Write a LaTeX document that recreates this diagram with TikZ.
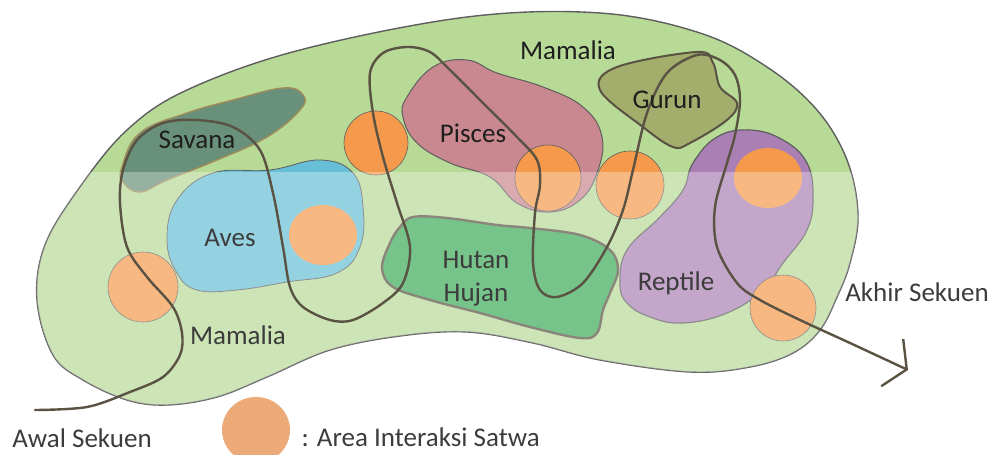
\documentclass[tikz,border=0pt]{standalone}
\usepackage{fontspec}
\setmainfont{Carlito}
\usepackage{tikz}
\usetikzlibrary{arrows.meta}

\definecolor{mamaliagreen}{HTML}{B8DA97}
\definecolor{savanagreen}{HTML}{68907A}
\definecolor{savanaedge}{HTML}{A08C5A}
\definecolor{avesblue}{HTML}{66BFD6}
\definecolor{piscespink}{HTML}{C9878F}
\definecolor{gurunolive}{HTML}{A3AD6C}
\definecolor{hutangreen}{HTML}{3DAB59}
\definecolor{reptilepurple}{HTML}{AA80B4}
\definecolor{interaksiorange}{HTML}{F59A4C}
\definecolor{legendaorange}{HTML}{ECAA78}
\definecolor{edgegray}{HTML}{5E5E5E}
\definecolor{sekuenline}{HTML}{5A5242}
\definecolor{labeldark}{HTML}{1E1E1E}
\definecolor{labelgray}{HTML}{3C3C3C}

\begin{document}
\begin{tikzpicture}[x=1pt, y=-1pt, font=\fontsize{27}{33}\selectfont]
  \useasboundingbox (0,0) rectangle (999,455);
  %% Mamalia area
  \filldraw[fill=mamaliagreen, draw=edgegray, line width=1.4pt]
    plot[smooth cycle, tension=0.6] coordinates {(37,300) (45,245) (80,187) (127,130) (187,90)
      (300,50) (467,17) (600,13) (700,33) (767,67) (817,110) (847,160) (858,215) (850,263)
      (837,297) (820,330) (793,353) (750,367) (690,372) (600,360) (533,343) (467,332)
      (400,336) (330,350) (267,377) (217,397) (167,405) (127,400) (83,380) (53,355)};
  %% Habitats
  \filldraw[fill=savanagreen, draw=savanaedge, line width=1.4pt]
    plot[smooth cycle, tension=0.7] coordinates {(122,167) (140,133) (187,113) (233,100)
      (283,88) (303,95) (300,110) (267,137) (217,160) (167,180) (140,192) (123,182)};
  \filldraw[fill=avesblue, draw=edgegray, line width=0.8pt]
    plot[smooth cycle, tension=0.7] coordinates {(167,240) (177,200) (213,173) (270,170)
      (320,160) (353,173) (363,207) (360,247) (337,273) (287,282) (237,290) (197,290) (177,273)};
  \filldraw[fill=piscespink, draw=edgegray, line width=1pt]
    plot[smooth cycle, tension=0.7] coordinates {(407,97) (433,67) (467,60) (497,73) (543,87)
      (583,107) (602,137) (597,173) (580,200) (550,212) (517,203) (490,177) (450,163)
      (417,143) (403,117)};
  \filldraw[fill=gurunolive, draw=sekuenline, line width=2pt]
    plot[smooth cycle, tension=0.6] coordinates {(600,90) (617,67) (697,52) (713,63) (720,87)
      (737,103) (727,120) (690,143) (673,147) (643,127)};
  \filldraw[fill=hutangreen, draw=sekuenline, line width=2.4pt]
    plot[smooth cycle, tension=0.6] coordinates {(413,217) (447,218) (497,225) (530,228)
      (580,235) (610,250) (618,270) (610,293) (603,310) (597,333) (580,338) (530,327)
      (480,313) (430,300) (393,287) (382,268) (390,243) (400,227)};
  \filldraw[fill=reptilepurple, draw=edgegray, line width=1.2pt]
    plot[smooth cycle, tension=0.7] coordinates {(620,283) (627,250) (660,217) (683,190)
      (693,163) (717,137) (750,130) (783,140) (807,163) (813,197) (807,230) (783,263)
      (763,290) (727,313) (683,323) (650,317) (627,303)};
  %% Interaction areas
  \filldraw[fill=interaksiorange, draw=edgegray, line width=0.6pt] (376,143) circle (32);
  \filldraw[fill=interaksiorange, draw=edgegray, line width=0.6pt] (548,178) circle (33);
  \filldraw[fill=interaksiorange, draw=edgegray, line width=0.6pt] (630,185) circle (34);
  \fill[interaksiorange] (768,178) ellipse (34 and 30);
  \fill[interaksiorange] (323,235) ellipse (34 and 30);
  \filldraw[fill=interaksiorange, draw=edgegray, line width=0.6pt] (143,287) circle (35);
  \filldraw[fill=interaksiorange, draw=edgegray, line width=0.6pt] (783,308) circle (33);
  %% Lighter lower half
  \begin{scope}
    \clip plot[smooth cycle, tension=0.6] coordinates {(37,300) (45,245) (80,187) (127,130) (187,90)
      (300,50) (467,17) (600,13) (700,33) (767,67) (817,110) (847,160) (858,215) (850,263)
      (837,297) (820,330) (793,353) (750,367) (690,372) (600,360) (533,343) (467,332)
      (400,336) (330,350) (267,377) (217,397) (167,405) (127,400) (83,380) (53,355)};
    \fill[white, opacity=0.3] (0,172) rectangle (999,455);
  \end{scope}
  %% Sequence line
  \coordinate (awal) at (35,410);
  \coordinate (akhir) at (908,370);
  \draw[sekuenline, line width=2.4pt, line cap=round,
        -{Straight Barb[length=16pt, width=52pt, line width=2.4pt]}]
    plot[smooth, tension=0.55] coordinates {(awal) (87,407) (130,392) (163,377) (180,355)
      (182,333) (173,307) (147,277) (127,247) (120,203) (123,170) (137,140) (163,123)
      (197,120) (233,127) (260,150) (273,193) (283,247) (290,287) (303,307) (330,320)
      (353,320) (383,303) (403,283) (410,247) (397,203) (383,157) (373,113) (370,73)
      (383,53) (407,47) (430,52) (450,70) (483,103) (517,137) (537,160) (540,185)
      (535,213) (533,263) (540,290) (557,297) (583,283) (607,247) (623,210) (633,170)
      (647,113) (667,73) (697,55) (720,60) (735,75) (740,100) (735,135) (727,163)
      (715,207) (717,247) (737,283) (760,300) (800,320) (850,343) (akhir)};
  %% Labels
  \node[labeldark] (mamaliaatas) at (568,50) {Mamalia};
  \node[labeldark] (gurun) at (667,100) {Gurun};
  \node[labeldark] (savana) at (197,140) {Savana};
  \node[labeldark] (pisces) at (473,133) {Pisces};
  \node[labelgray] (aves) at (230,238) {Aves};
  \node[labelgray, align=center] (hutan) at (476,279) {Hutan\\Hujan};
  \node[labelgray] (reptile) at (676,283) {Reptile};
  \node[labelgray] (mamaliabawah) at (238,335) {Mamalia};
  \node[labelgray] (akhirlabel) at (917,292) {Akhir Sekuen};
  \node[labelgray] (awallabel) at (82,438) {Awal Sekuen};
  %% Legend
  \fill[legendaorange] (256,430) ellipse (34 and 33);
  \node[labelgray, anchor=west] (legenda) at (298,437) {: Area Interaksi Satwa};
\end{tikzpicture}
\end{document}
